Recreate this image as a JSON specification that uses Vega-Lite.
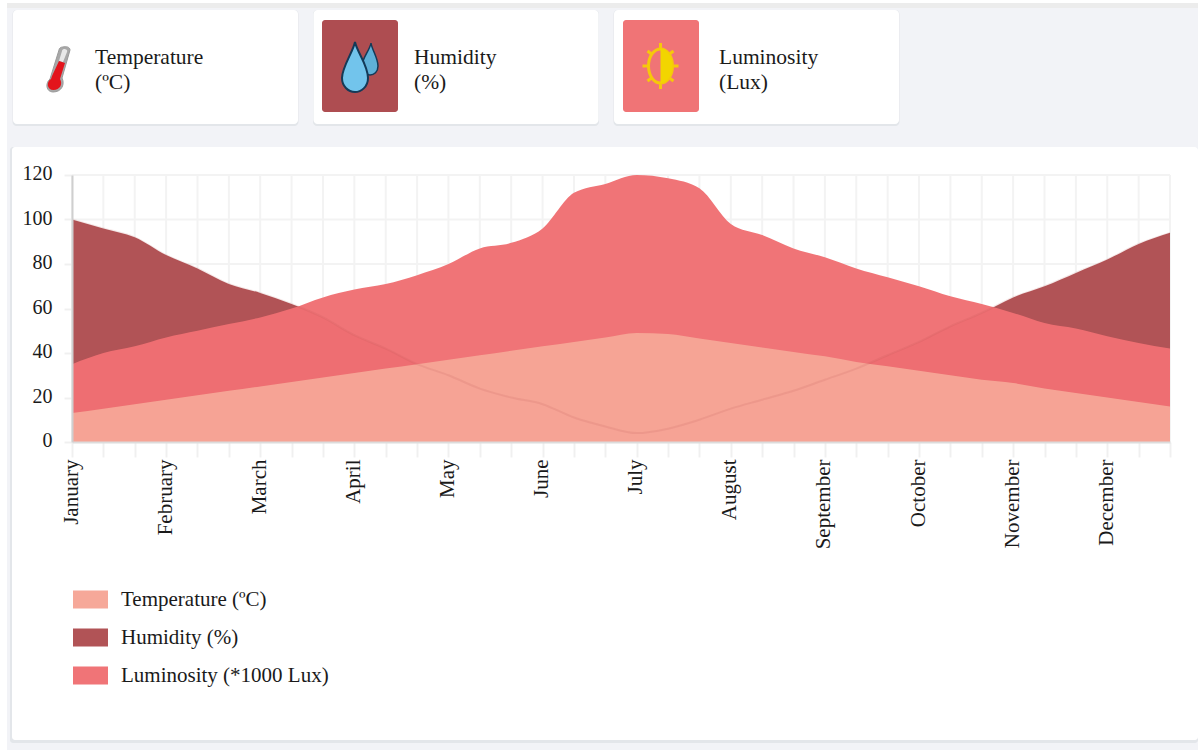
{"$schema":"https://vega.github.io/schema/vega-lite/v6.json","width":1098,"height":267,"autosize":{"type":"none"},"padding":{"left":72,"top":175,"right":28,"bottom":308},"background":"#ffffff","config":{"view":{"stroke":null},"font":"Liberation Serif"},
"datasets":{"series":[
{"step":0,"series":"Humidity (%)","value":100},{"step":1,"series":"Humidity (%)","value":96},{"step":2,"series":"Humidity (%)","value":92},{"step":3,"series":"Humidity (%)","value":84},{"step":4,"series":"Humidity (%)","value":78},{"step":5,"series":"Humidity (%)","value":71},{"step":6,"series":"Humidity (%)","value":67},{"step":7,"series":"Humidity (%)","value":62},{"step":8,"series":"Humidity (%)","value":56},{"step":9,"series":"Humidity (%)","value":48},{"step":10,"series":"Humidity (%)","value":42},{"step":11,"series":"Humidity (%)","value":35},{"step":12,"series":"Humidity (%)","value":30},{"step":13,"series":"Humidity (%)","value":24},{"step":14,"series":"Humidity (%)","value":20},{"step":15,"series":"Humidity (%)","value":17},{"step":16,"series":"Humidity (%)","value":11},{"step":17,"series":"Humidity (%)","value":7},{"step":18,"series":"Humidity (%)","value":4},{"step":19,"series":"Humidity (%)","value":6},{"step":20,"series":"Humidity (%)","value":10},{"step":21,"series":"Humidity (%)","value":15},{"step":22,"series":"Humidity (%)","value":19},{"step":23,"series":"Humidity (%)","value":23},{"step":24,"series":"Humidity (%)","value":28},{"step":25,"series":"Humidity (%)","value":33},{"step":26,"series":"Humidity (%)","value":39},{"step":27,"series":"Humidity (%)","value":45},{"step":28,"series":"Humidity (%)","value":52},{"step":29,"series":"Humidity (%)","value":58},{"step":30,"series":"Humidity (%)","value":65},{"step":31,"series":"Humidity (%)","value":70},{"step":32,"series":"Humidity (%)","value":76},{"step":33,"series":"Humidity (%)","value":82},{"step":34,"series":"Humidity (%)","value":89},{"step":35,"series":"Humidity (%)","value":94},
{"step":0,"series":"Luminosity (*1000 Lux)","value":35},{"step":1,"series":"Luminosity (*1000 Lux)","value":40},{"step":2,"series":"Luminosity (*1000 Lux)","value":43},{"step":3,"series":"Luminosity (*1000 Lux)","value":47},{"step":4,"series":"Luminosity (*1000 Lux)","value":50},{"step":5,"series":"Luminosity (*1000 Lux)","value":53},{"step":6,"series":"Luminosity (*1000 Lux)","value":56},{"step":7,"series":"Luminosity (*1000 Lux)","value":60},{"step":8,"series":"Luminosity (*1000 Lux)","value":65},{"step":9,"series":"Luminosity (*1000 Lux)","value":68.5},{"step":10,"series":"Luminosity (*1000 Lux)","value":71},{"step":11,"series":"Luminosity (*1000 Lux)","value":75},{"step":12,"series":"Luminosity (*1000 Lux)","value":80},{"step":13,"series":"Luminosity (*1000 Lux)","value":87},{"step":14,"series":"Luminosity (*1000 Lux)","value":89.5},{"step":15,"series":"Luminosity (*1000 Lux)","value":96},{"step":16,"series":"Luminosity (*1000 Lux)","value":112},{"step":17,"series":"Luminosity (*1000 Lux)","value":116},{"step":18,"series":"Luminosity (*1000 Lux)","value":120},{"step":19,"series":"Luminosity (*1000 Lux)","value":118.5},{"step":20,"series":"Luminosity (*1000 Lux)","value":114},{"step":21,"series":"Luminosity (*1000 Lux)","value":98},{"step":22,"series":"Luminosity (*1000 Lux)","value":93},{"step":23,"series":"Luminosity (*1000 Lux)","value":87},{"step":24,"series":"Luminosity (*1000 Lux)","value":83},{"step":25,"series":"Luminosity (*1000 Lux)","value":78},{"step":26,"series":"Luminosity (*1000 Lux)","value":74},{"step":27,"series":"Luminosity (*1000 Lux)","value":70},{"step":28,"series":"Luminosity (*1000 Lux)","value":65.5},{"step":29,"series":"Luminosity (*1000 Lux)","value":62},{"step":30,"series":"Luminosity (*1000 Lux)","value":58},{"step":31,"series":"Luminosity (*1000 Lux)","value":53.5},{"step":32,"series":"Luminosity (*1000 Lux)","value":51},{"step":33,"series":"Luminosity (*1000 Lux)","value":47.5},{"step":34,"series":"Luminosity (*1000 Lux)","value":44.5},{"step":35,"series":"Luminosity (*1000 Lux)","value":42},
{"step":0,"series":"Temperature (ºC)","value":13},{"step":1,"series":"Temperature (ºC)","value":15},{"step":2,"series":"Temperature (ºC)","value":17},{"step":3,"series":"Temperature (ºC)","value":19},{"step":4,"series":"Temperature (ºC)","value":21},{"step":5,"series":"Temperature (ºC)","value":23},{"step":6,"series":"Temperature (ºC)","value":25},{"step":7,"series":"Temperature (ºC)","value":27},{"step":8,"series":"Temperature (ºC)","value":29},{"step":9,"series":"Temperature (ºC)","value":31},{"step":10,"series":"Temperature (ºC)","value":33},{"step":11,"series":"Temperature (ºC)","value":35},{"step":12,"series":"Temperature (ºC)","value":37},{"step":13,"series":"Temperature (ºC)","value":39},{"step":14,"series":"Temperature (ºC)","value":41},{"step":15,"series":"Temperature (ºC)","value":43},{"step":16,"series":"Temperature (ºC)","value":45},{"step":17,"series":"Temperature (ºC)","value":47},{"step":18,"series":"Temperature (ºC)","value":49},{"step":19,"series":"Temperature (ºC)","value":48.5},{"step":20,"series":"Temperature (ºC)","value":46.5},{"step":21,"series":"Temperature (ºC)","value":44.5},{"step":22,"series":"Temperature (ºC)","value":42.5},{"step":23,"series":"Temperature (ºC)","value":40.5},{"step":24,"series":"Temperature (ºC)","value":38.5},{"step":25,"series":"Temperature (ºC)","value":36},{"step":26,"series":"Temperature (ºC)","value":34},{"step":27,"series":"Temperature (ºC)","value":32},{"step":28,"series":"Temperature (ºC)","value":30},{"step":29,"series":"Temperature (ºC)","value":28},{"step":30,"series":"Temperature (ºC)","value":26.5},{"step":31,"series":"Temperature (ºC)","value":24},{"step":32,"series":"Temperature (ºC)","value":22},{"step":33,"series":"Temperature (ºC)","value":20},{"step":34,"series":"Temperature (ºC)","value":18},{"step":35,"series":"Temperature (ºC)","value":16}
],"steps":[{"step":0},{"step":1},{"step":2},{"step":3},{"step":4},{"step":5},{"step":6},{"step":7},{"step":8},{"step":9},{"step":10},{"step":11},{"step":12},{"step":13},{"step":14},{"step":15},{"step":16},{"step":17},{"step":18},{"step":19},{"step":20},{"step":21},{"step":22},{"step":23},{"step":24},{"step":25},{"step":26},{"step":27},{"step":28},{"step":29},{"step":30},{"step":31},{"step":32},{"step":33},{"step":34},{"step":35}],
"levels":[{"level":0},{"level":20},{"level":40},{"level":60},{"level":80},{"level":100},{"level":120}],
"cards":[{"card":"Temperature"},{"card":"Humidity"},{"card":"Luminosity"}],
"lines":[{"n":1,"row":"first","line":"Temperature"},{"n":1,"row":"second","line":"(ºC)"},{"n":2,"row":"first","line":"Humidity"},{"n":2,"row":"second","line":"(%)"},{"n":3,"row":"first","line":"Luminosity"},{"n":3,"row":"second","line":"(Lux)"}]},
"layer":[
{"data":{"values":[{"part":"ground"}]},"mark":{"type":"rect","width":1191,"height":747,"fill":"#f2f3f7"},"encoding":{"x":{"field":"part","type":"nominal","axis":null,"scale":{"type":"point","padding":0,"domain":["ground"],"range":[530.5,530.5]}},"y":{"field":"part","type":"nominal","axis":null,"scale":{"type":"point","padding":0,"domain":["ground"],"range":[201.5,201.5]}}}},
{"data":{"values":[{"part":"strip"}]},"mark":{"type":"rect","width":1191,"height":5,"fill":"#ececec"},"encoding":{"x":{"field":"part","type":"nominal","axis":null,"scale":{"type":"point","padding":0,"domain":["strip"],"range":[530.5,530.5]}},"y":{"field":"part","type":"nominal","axis":null,"scale":{"type":"point","padding":0,"domain":["strip"],"range":[-169.5,-169.5]}}}},
{"data":{"values":[{"part":"panel shadow"}]},"mark":{"type":"rect","width":1188,"height":596,"fill":"#e3e6ea","cornerRadius":3},"encoding":{"x":{"field":"part","type":"nominal","axis":null,"scale":{"type":"point","padding":0,"domain":["panel shadow"],"range":[532,532]}},"y":{"field":"part","type":"nominal","axis":null,"scale":{"type":"point","padding":0,"domain":["panel shadow"],"range":[270,270]}}}},
{"data":{"values":[{"part":"panel"}]},"mark":{"type":"rect","width":1186,"height":593,"fill":"#ffffff","cornerRadius":3},"encoding":{"x":{"field":"part","type":"nominal","axis":null,"scale":{"type":"point","padding":0,"domain":["panel"],"range":[533,533]}},"y":{"field":"part","type":"nominal","axis":null,"scale":{"type":"point","padding":0,"domain":["panel"],"range":[268.5,268.5]}}}},
{"data":{"name":"cards"},"encoding":{"x":{"field":"card","type":"nominal","axis":null,"scale":{"type":"point","padding":0,"domain":["Temperature","Humidity","Luminosity"],"range":[83.5,684.5]}},"y":{"datum":"cards","type":"nominal","axis":null,"scale":{"type":"point","padding":0,"domain":["cards"],"range":[-108,-108]}}},
"layer":[
{"mark":{"type":"rect","width":286,"height":116,"fill":"#e3e6ea","cornerRadius":4,"yOffset":1}},
{"mark":{"type":"rect","width":285,"height":114,"fill":"#ffffff","cornerRadius":4}},
{"transform":[{"filter":"datum.card==='Humidity'"}],"mark":{"type":"rect","width":76,"height":92,"fill":"#ae4d51","cornerRadius":3,"xOffset":-96,"yOffset":-1}},
{"transform":[{"filter":"datum.card==='Luminosity'"}],"mark":{"type":"rect","width":76,"height":92,"fill":"#f07476","cornerRadius":3,"xOffset":-95.5,"yOffset":-1}},
{"transform":[{"filter":"datum.card==='Temperature'"}],"mark":{"type":"point","size":4,"filled":true,"opacity":1,"fill":"#a8a8a8","stroke":"#9a9a9a","strokeWidth":1,"shape":"M3,-23 C6,-24 10,-23 10,-20 L2,8 C5,14 2,22 -7,22 C-14,22 -15,13 -10,9 L-1,-20 C-1,-22 1,-23 3,-23 Z","xOffset":-95.5,"yOffset":3}},
{"transform":[{"filter":"datum.card==='Temperature'"}],"mark":{"type":"point","size":4,"filled":true,"opacity":1,"fill":"#e8e8e8","shape":"M4,-21 C6,-21 8,-20 7,-18 L3,-8 L-1,-9 L2,-19 C2,-20 3,-21 4,-21 Z","xOffset":-95.5,"yOffset":3}},
{"transform":[{"filter":"datum.card==='Temperature'"}],"mark":{"type":"point","size":4,"filled":true,"opacity":1,"fill":"#e3141c","shape":"M-1,-9 L5,-7 L0,9 C3,14 0,20 -6.5,20 C-13,20 -14,12 -9,9 L-8,6 Z","xOffset":-95.5,"yOffset":3}},
{"transform":[{"filter":"datum.card==='Humidity'"}],"mark":{"type":"point","size":4,"filled":true,"opacity":1,"fill":"#5fb0d8","stroke":"#143a58","strokeWidth":1.5,"shape":"M11,-24 C12,-17 18,-9 18,-1 C18,5 14,8 10,8 C6,8 2,5 2,-1 C2,-9 10,-17 11,-24 Z","xOffset":-96}},
{"transform":[{"filter":"datum.card==='Humidity'"}],"mark":{"type":"point","size":4,"filled":true,"opacity":1,"fill":"#72c4ec","stroke":"#143a58","strokeWidth":2,"shape":"M-5,-25 C-3,-15 8,-2 8,11 C8,20 1,25 -5,25 C-12,25 -18,19 -18,11 C-18,0 -7,-15 -5,-25 Z","xOffset":-96}},
{"transform":[{"filter":"datum.card==='Luminosity'"}],"mark":{"type":"point","size":4,"filled":false,"opacity":1,"stroke":"#f6c80a","strokeWidth":3,"shape":"M0,-23 L0,-17 M0,23 L0,17 M-18,0 L-12,0 M18,0 L12,0 M-13,-15 L-9,-12 M13,-15 L9,-12 M-13,15 L-9,12 M13,15 L9,12 M-12,0 A12,17 0 1 0 12,0 A12,17 0 1 0 -12,0 Z","xOffset":-96,"yOffset":-1}},
{"transform":[{"filter":"datum.card==='Luminosity'"}],"mark":{"type":"point","size":4,"filled":true,"opacity":1,"fill":"#f2d500","shape":"M0,-17 A12,17 0 0 1 0,17 Z","xOffset":-96,"yOffset":-1}}
]},
{"data":{"name":"lines"},"mark":{"type":"text","align":"left","baseline":"middle","font":"Liberation Serif","fontSize":21.5,"fill":"#1a1a1a"},"encoding":{"x":{"field":"n","type":"quantitative","axis":null,"scale":{"domain":[1,2,3],"range":[23,342,647]}},"y":{"field":"row","type":"nominal","axis":null,"scale":{"type":"point","padding":0,"domain":["first","second"],"range":[-117,-92]}},"text":{"field":"line"}}},
{"resolve":{"axis":{"x":"independent","y":"independent"}},"layer":[
{"data":{"name":"steps"},"mark":{"type":"rule","stroke":"#f3f3f3","strokeWidth":2},"encoding":{"x":{"field":"step","type":"quantitative","scale":{"domain":[0,35],"nice":false,"zero":false},"axis":{"orient":"bottom","title":null,"values":[0,1,2,3,4,5,6,7,8,9,10,11,12,13,14,15,16,17,18,19,20,21,22,23,24,25,26,27,28,29,30,31,32,33,34,35],"labelExpr":"datum.value%3===0?['January','February','March','April','May','June','July','August','September','October','November','December'][datum.value/3]:''","labelAngle":-90,"labelAlign":"right","labelBaseline":"middle","labelFont":"Liberation Serif","labelFontSize":21,"labelColor":"#1a1a1a","labelPadding":2,"labelOffset":-1,"labelOverlap":false,"labelFlush":false,"tickColor":"#f0f0f0","tickWidth":2,"tickSize":15,"domainColor":"#dcdcdc","domainWidth":2,"grid":false,"zindex":1}}}},
{"data":{"name":"levels"},"mark":{"type":"rule","stroke":"#f3f3f3","strokeWidth":2},"encoding":{"y":{"field":"level","type":"quantitative","scale":{"domain":[0,120],"nice":false},"axis":{"orient":"left","title":null,"values":[0,20,40,60,80,100,120],"labelFont":"Liberation Serif","labelFontSize":20,"labelColor":"#1a1a1a","labelPadding":12,"labelOffset":-1.5,"tickColor":"#f0f0f0","tickWidth":2,"tickSize":8,"domainColor":"#cfcfcf","domainWidth":2,"grid":false,"zindex":1}}}},
{"data":{"name":"series"},"transform":[{"filter":"datum.series==='Humidity (%)'"}],"mark":{"type":"area","interpolate":"monotone","opacity":0.97},"encoding":{"x":{"field":"step","type":"quantitative","axis":null},"y":{"field":"value","type":"quantitative","stack":null,"axis":null},"color":{"field":"series","type":"nominal","scale":{"domain":["Temperature (ºC)","Humidity (%)","Luminosity (*1000 Lux)"],"range":["#f6a596","#ae4d51","#ef7073"]},"legend":{"title":null,"orient":"none","legendX":1,"legendY":407,"symbolType":"M-1,-0.514H1V0.514H-1Z","symbolSize":1225,"symbolStrokeWidth":0,"symbolOpacity":1,"rowPadding":10,"labelFont":"Liberation Serif","labelFontSize":21,"labelColor":"#1a1a1a","labelOffset":13,"labelLimit":400}}}},
{"data":{"name":"series"},"transform":[{"filter":"datum.series==='Luminosity (*1000 Lux)'"}],"mark":{"type":"area","interpolate":"monotone","opacity":0.97},"encoding":{"x":{"field":"step","type":"quantitative","axis":null},"y":{"field":"value","type":"quantitative","stack":null,"axis":null},"color":{"field":"series","type":"nominal"}}},
{"data":{"name":"series"},"transform":[{"filter":"datum.series==='Temperature (ºC)'"}],"mark":{"type":"area","interpolate":"monotone","opacity":0.97},"encoding":{"x":{"field":"step","type":"quantitative","axis":null},"y":{"field":"value","type":"quantitative","stack":null,"axis":null},"color":{"field":"series","type":"nominal"}}},
{"data":{"name":"series"},"transform":[{"filter":"datum.series==='Humidity (%)'"}],"mark":{"type":"line","interpolate":"monotone","stroke":"#ae4d51","strokeWidth":2,"opacity":0.13},"encoding":{"x":{"field":"step","type":"quantitative","axis":null},"y":{"field":"value","type":"quantitative","axis":null}}}
]}
],"resolve":{"scale":{"x":"independent","y":"independent"},"axis":{"x":"independent","y":"independent"}}}
